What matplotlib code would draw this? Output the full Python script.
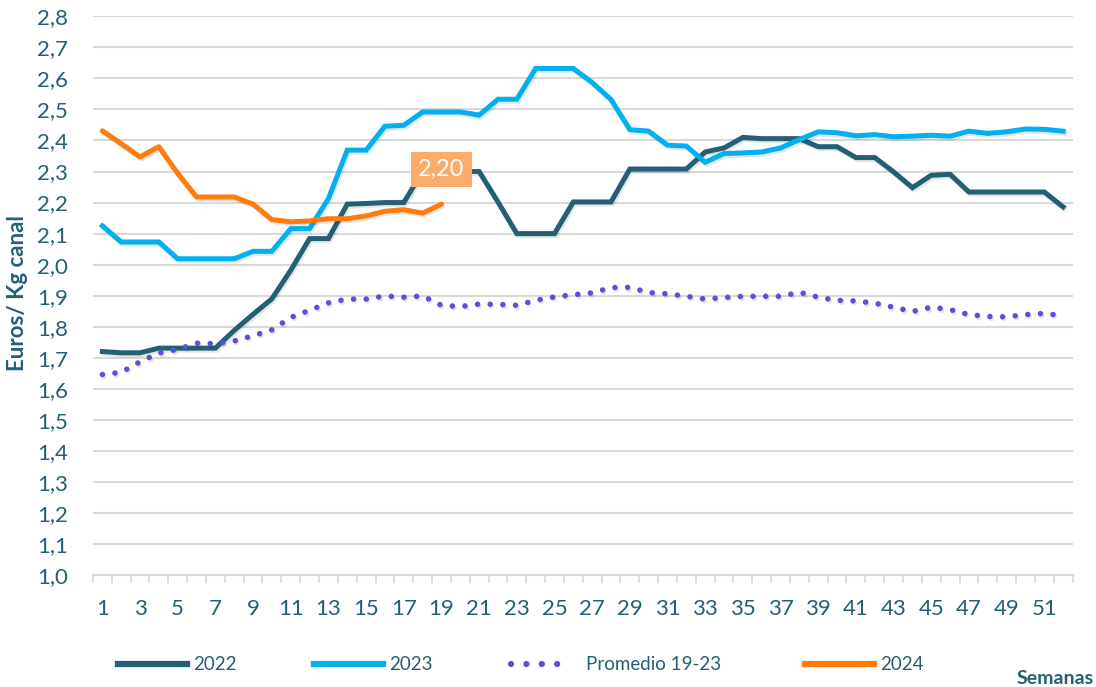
import numpy as np
import matplotlib.pyplot as plt
import matplotlib.patheffects as pe
from matplotlib.lines import Line2D
from matplotlib.ticker import FuncFormatter, FixedLocator

plt.rcParams['font.family'] = ['Lato', 'DejaVu Sans']

weeks = np.arange(1, 53)

# precios Euros/Kg canal por semana
y2022 = [1.72, 1.716, 1.716, 1.731, 1.731, 1.731, 1.731, 1.788, 1.840, 1.890,
         1.982, 2.084, 2.084, 2.195, 2.197, 2.200, 2.200, 2.300, 2.300, 2.300,
         2.300, 2.202, 2.100, 2.100, 2.100, 2.202, 2.202, 2.202, 2.308, 2.308,
         2.308, 2.308, 2.363, 2.376, 2.410, 2.406, 2.406, 2.406, 2.380, 2.380,
         2.345, 2.345, 2.299, 2.248, 2.288, 2.291, 2.234, 2.234, 2.234, 2.234,
         2.234, 2.186]
y2023 = [2.125, 2.073, 2.073, 2.073, 2.019, 2.019, 2.019, 2.019, 2.043, 2.043,
         2.116, 2.116, 2.213, 2.369, 2.369, 2.446, 2.449, 2.492, 2.492, 2.492,
         2.482, 2.533, 2.533, 2.632, 2.632, 2.632, 2.587, 2.532, 2.435, 2.430,
         2.385, 2.382, 2.330, 2.358, 2.360, 2.363, 2.376, 2.403, 2.428, 2.425,
         2.415, 2.419, 2.412, 2.414, 2.417, 2.414, 2.430, 2.423, 2.428, 2.437,
         2.436, 2.430]
promedio = [1.646, 1.653, 1.687, 1.715, 1.727, 1.747, 1.745, 1.754, 1.771, 1.790,
            1.830, 1.853, 1.877, 1.889, 1.889, 1.899, 1.895, 1.899, 1.869, 1.865,
            1.873, 1.872, 1.869, 1.885, 1.896, 1.903, 1.909, 1.926, 1.927, 1.910,
            1.906, 1.898, 1.889, 1.894, 1.898, 1.898, 1.898, 1.911, 1.895, 1.885,
            1.883, 1.876, 1.863, 1.849, 1.863, 1.855, 1.839, 1.833, 1.832, 1.839,
            1.843, 1.835]
y2024 = [2.431, 2.390, 2.347, 2.380, 2.294, 2.218, 2.218, 2.218, 2.195, 2.145,
         2.138, 2.141, 2.148, 2.148, 2.157, 2.172, 2.177, 2.166, 2.195]

c2022 = '#255F74'
c2023 = '#00B0F0'
cprom = '#5A52D6'
c2024 = '#FF7C0A'
txt = '#265E73'
grid = '#D9D9D9'

shadow = [pe.SimpleLineShadow(offset=(1, -1.5), shadow_color='k', alpha=0.1), pe.Normal()]

fig = plt.figure(figsize=(10.96, 6.87), dpi=100)
ax = fig.add_axes([0.0848, 0.163, 0.8938, 0.8132])

ax.plot(weeks, y2022, color=c2022, lw=3.6, solid_joinstyle='miter', path_effects=shadow)
ax.plot(weeks, y2023, color=c2023, lw=3.6, solid_joinstyle='miter', path_effects=shadow)
ax.plot(weeks, promedio, color=cprom, lw=4.0, linestyle=(0, (0.01, 2.27)),
        dash_capstyle='round', path_effects=shadow)
ax.plot(weeks[:len(y2024)], y2024, color=c2024, lw=3.6, solid_capstyle='round',
        path_effects=shadow)

ax.annotate('2,20', xy=(len(y2024), y2024[-1]), xytext=(0, 25), textcoords='offset points',
            ha='center', va='center', fontsize=17, color='white',
            bbox=dict(boxstyle='square,pad=0.3', fc='#FBAC6B', ec='none'))

ax.set_xlim(0.5, 52.5)
ax.set_ylim(1.0, 2.8)
ax.set_yticks(np.arange(1.0, 2.801, 0.1))
ax.yaxis.set_major_formatter(FuncFormatter(lambda v, p: f'{v:.1f}'.replace('.', ',')))
ax.set_xticks(np.arange(1, 53, 2))
ax.xaxis.set_minor_locator(FixedLocator(np.arange(0.5, 53, 1)))
ax.tick_params(axis='x', which='major', length=0, pad=17, labelsize=16, labelcolor=txt)
ax.tick_params(axis='x', which='minor', length=6, width=1.2, color=grid)
ax.tick_params(axis='y', length=0, pad=18, labelsize=16, labelcolor=txt)

ax.yaxis.grid(True, color=grid, lw=1.5)
ax.set_axisbelow(True)
for s in ['top', 'right', 'left']:
    ax.spines[s].set_visible(False)
ax.spines['bottom'].set_color(grid)
ax.spines['bottom'].set_linewidth(1.5)

fig.text(18 / 1096, 1 - 293 / 687, 'Euros/ Kg canal', rotation=90, ha='center', va='center',
         fontsize=16, fontweight='bold', color=txt)
fig.text(1094 / 1096, 1 - 678 / 687, 'Semanas', ha='right', va='center',
         fontsize=14, fontweight='bold', color=txt)

# leyenda
ly = 1 - 665 / 687
entries = [
    (Line2D([], [], color=c2022, lw=4.5), '2022', 118, 3.7, 0.3),
    (Line2D([], [], color=c2023, lw=4.5), '2023', 314, 3.7, 0.3),
    (Line2D([], [], color=cprom, lw=4.5, linestyle=(0, (0.01, 2.45)), dash_capstyle='round'),
     'Promedio 19-23', 511, 3.0, 1.0),
    (Line2D([], [], color=c2024, lw=4.5), '2024', 805, 3.7, 0.3),
]
for h, lab, x0, hl, tp in entries:
    fig.legend(handles=[h], labels=[lab], loc='center left', bbox_to_anchor=(x0 / 1096, ly),
               frameon=False, fontsize=13.5, handlelength=hl, handletextpad=tp,
               borderpad=0, borderaxespad=0, labelcolor=txt)

fig.savefig('out.png', dpi=100)
